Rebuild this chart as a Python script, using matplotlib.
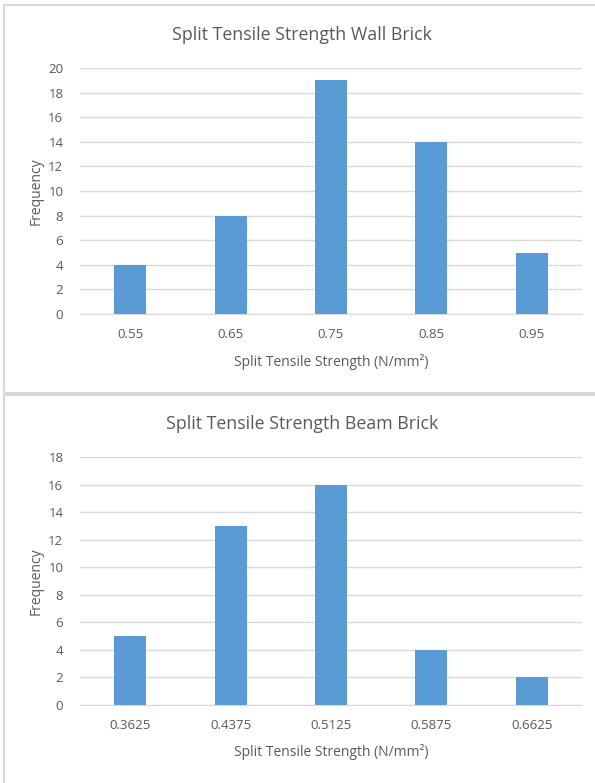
import matplotlib
matplotlib.use("Agg")
import matplotlib.pyplot as plt
from matplotlib.patches import Rectangle

wall_cats = ["0.55", "0.65", "0.75", "0.85", "0.95"]
wall_vals = [4, 8, 19, 14, 5]
beam_cats = ["0.3625", "0.4375", "0.5125", "0.5875", "0.6625"]
beam_vals = [5, 13, 16, 4, 2]

W, H = 595, 783
fig = plt.figure(figsize=(W / 100, H / 100), dpi=100)
plt.rcParams['font.family'] = ['Open Sans', 'DejaVu Sans']

txt = "#595959"
grid = "#d9d9d9"
bar_c = "#5b9bd5"

def px(x0, y0, x1, y1):
    return [x0 / W, 1 - y1 / H, (x1 - x0) / W, (y1 - y0) / H]

# chart borders
fig.patches.append(Rectangle((4 / W, 1 - 393 / H), (600 - 4) / W, (393 - 5) / H,
                             transform=fig.transFigure, fill=False, ec=grid, lw=1.5))
fig.patches.append(Rectangle((4 / W, 1 - 790 / H), (600 - 4) / W, (790 - 395) / H,
                             transform=fig.transFigure, fill=False, ec=grid, lw=1.5))

def draw(rect, cats, vals, ymax, title, title_y, xlab_y):
    ax = fig.add_axes(rect)
    x = range(len(cats))
    ax.bar(x, vals, width=0.32, color=bar_c, zorder=3)
    ax.set_xlim(-0.5, len(cats) - 0.5)
    ax.set_ylim(0, ymax)
    ax.set_yticks(range(0, ymax + 1, 2))
    ax.set_xticks(list(x))
    ax.set_xticklabels(cats)
    ax.yaxis.grid(True, color=grid, lw=1, zorder=0)
    for s in ["top", "right", "left"]:
        ax.spines[s].set_visible(False)
    ax.spines["bottom"].set_color(grid)
    ax.tick_params(length=0, labelsize=9.5, colors=txt, pad=10)
    ax.tick_params(axis='y', pad=12)
    ax.set_ylabel("Frequency", fontsize=10, color=txt, labelpad=3)
    fig.text(302 / W, 1 - title_y / H, title, ha="center", va="center",
             fontsize=12.8, color=txt)
    fig.text(0.5 * (80 + 582) / W, 1 - xlab_y / H, "Split Tensile Strength (N/mm²)",
             ha="center", va="center", fontsize=10, color=txt)
    return ax

draw(px(80, 68, 582, 314), wall_cats, wall_vals, 20,
     "Split Tensile Strength Wall Brick", 35, 362)
draw(px(80, 457, 582, 705), beam_cats, beam_vals, 18,
     "Split Tensile Strength Beam Brick", 424, 752)

fig.savefig("out.png", dpi=100)
